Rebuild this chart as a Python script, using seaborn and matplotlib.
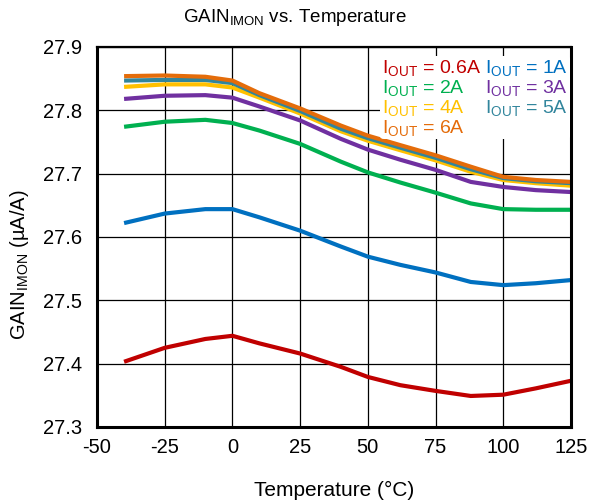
import numpy as np
import pandas as pd
import seaborn as sns
import matplotlib
matplotlib.use("Agg")
import matplotlib.pyplot as plt

# Temperature sweep (°C)
temperature = [-40, -25, -10, 0, 10, 25, 40, 50, 62, 75, 88, 100, 112, 125]

# IMON gain (µA/A) for each output current
gain_0p6A = [27.403, 27.425, 27.439, 27.444, 27.432, 27.416, 27.395, 27.379, 27.366, 27.357, 27.349, 27.351, 27.361, 27.373]
gain_1A = [27.622, 27.637, 27.644, 27.644, 27.631, 27.610, 27.585, 27.569, 27.556, 27.544, 27.529, 27.524, 27.527, 27.532]
gain_2A = [27.774, 27.782, 27.785, 27.780, 27.768, 27.747, 27.719, 27.702, 27.686, 27.670, 27.653, 27.644, 27.643, 27.643]
gain_3A = [27.818, 27.823, 27.824, 27.820, 27.806, 27.784, 27.755, 27.738, 27.722, 27.706, 27.687, 27.679, 27.674, 27.671]
gain_4A = [27.837, 27.841, 27.841, 27.836, 27.820, 27.795, 27.767, 27.752, 27.737, 27.721, 27.703, 27.690, 27.685, 27.681]
gain_5A = [27.847, 27.848, 27.848, 27.843, 27.824, 27.799, 27.771, 27.756, 27.741, 27.725, 27.707, 27.693, 27.688, 27.685]
gain_6A = [27.854, 27.855, 27.853, 27.847, 27.827, 27.803, 27.776, 27.760, 27.745, 27.729, 27.711, 27.695, 27.690, 27.687]

series_labels = ["0.6A", "1A", "2A", "3A", "4A", "5A", "6A"]
series_values = [gain_0p6A, gain_1A, gain_2A, gain_3A, gain_4A, gain_5A, gain_6A]
series_colors = ["#C00000", "#0070C0", "#00B050", "#7030A0", "#FFC000", "#31859C", "#E46C0A"]

x_ticks = [-50, -25, 0, 25, 50, 75, 100, 125]
y_ticks = [27.3, 27.4, 27.5, 27.6, 27.7, 27.8, 27.9]

df = pd.concat(
    [pd.DataFrame({"Temperature": temperature, "Gain": vals, "Iout": lab})
     for lab, vals in zip(series_labels, series_values)],
    ignore_index=True,
)

sns.set_theme(style="white")
plt.rcParams["font.family"] = ["Liberation Sans", "DejaVu Sans"]
plt.rcParams["mathtext.fontset"] = "custom"
plt.rcParams["mathtext.rm"] = "Liberation Sans"
plt.rcParams["mathtext.it"] = "Liberation Sans"
plt.rcParams["mathtext.bf"] = "Liberation Sans"

FS = 14.5

fig = plt.figure(figsize=(5.89, 5.01), dpi=100)
ax = fig.add_axes([97 / 589, 1 - 427 / 501, 474 / 589, 380 / 501])

palette = dict(zip(series_labels, series_colors))
sns.lineplot(data=df, x="Temperature", y="Gain", hue="Iout", hue_order=series_labels,
             palette=palette, linewidth=3.0, ax=ax, legend=False,
             solid_capstyle="butt", solid_joinstyle="round")

ax.set_xlim(-50, 125)
ax.set_ylim(27.3, 27.9)
ax.set_xticks(x_ticks)
ax.set_xticklabels([str(t) for t in x_ticks])
ax.set_yticks(y_ticks)
ax.set_yticklabels([f"{t:.1f}" for t in y_ticks])
ax.tick_params(axis="both", length=0, labelsize=FS, colors="black")
ax.tick_params(axis="y", pad=11)
ax.tick_params(axis="x", pad=8)
ax.grid(True, color="black", linewidth=0.9)
ax.set_axisbelow(True)
for side, sp in ax.spines.items():
    sp.set_visible(True)
    sp.set_color("black")
    sp.set_linewidth(2.2 if side != "top" else 1.6)

ax.set_xlabel("Temperature (°C)", fontsize=15, color="black", labelpad=17)
ax.set_ylabel("")
fig.text(20 / 589, 1 - 265 / 501, r"GAIN$_{\mathrm{IMON}}$ (µA/A)", rotation=90,
         fontsize=FS, ha="center", va="center", color="black")
fig.text(0.5, 1 - 18 / 501, r"GAIN$_{\mathrm{IMON}}$ vs. Temperature",
         fontsize=13.5, ha="center", va="center", color="black")

# Text-only legend: two columns, labels coloured like their curves
legend_order = ["0.6A", "2A", "4A", "6A", "1A", "3A", "5A"]
handles = [plt.Line2D([], [], color=palette[l], linewidth=0) for l in legend_order]
labels = [r"I$_{\mathrm{OUT}}$ = " + l for l in legend_order]
leg = ax.legend(handles, labels, ncol=2, loc="upper right", bbox_to_anchor=(1.0, 0.98),
                fontsize=14, handlelength=0, handletextpad=0, columnspacing=0.2,
                labelspacing=0.0, frameon=True, framealpha=1.0,
                borderpad=0.1, borderaxespad=0.05)
leg.get_frame().set_linewidth(0)
leg.get_frame().set_facecolor("white")
for txt, l in zip(leg.get_texts(), legend_order):
    txt.set_color(palette[l])

fig.savefig("out.png", dpi=100, facecolor="white")
